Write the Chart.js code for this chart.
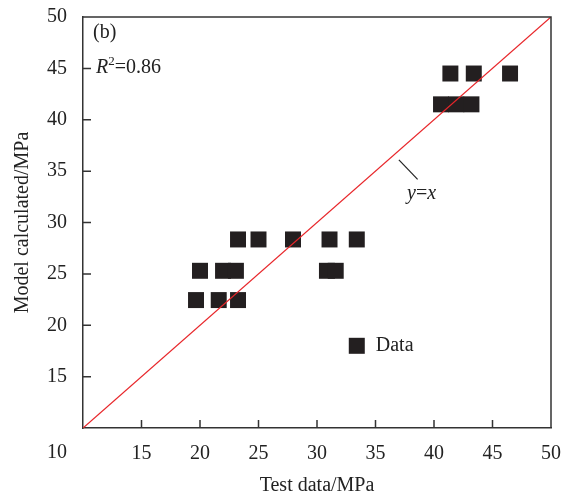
<!DOCTYPE html>
<html>
<head>
<meta charset="utf-8">
<script src="https://cdn.jsdelivr.net/npm/chart.js@4.4.1/dist/chart.umd.min.js"></script>
<style>
  html, body { margin: 0; padding: 0; background: #fff; }
  #wrap { width: 574px; height: 494px; }
</style>
</head>
<body>
<div id="wrap"><canvas id="fitChart"></canvas></div>
<script>
// test data (x) vs model calculated (y), MPa
const testData  = [41.4, 43.4, 46.5, 40.6, 41.9, 43.2, 23.25, 25.0, 27.95, 31.07, 33.4, 20.0, 21.97, 23.07, 30.85, 31.6, 19.66, 21.6, 23.25];
const modelData = [44.5, 44.5, 44.5, 41.5, 41.5, 41.5, 28.35, 28.35, 28.35, 28.35, 28.35, 25.3, 25.3, 25.3, 25.3, 25.3, 22.45, 22.45, 22.45];
const refLine = [10, 50];
const axisTicks = [10, 15, 20, 25, 30, 35, 40, 45, 50];

const serif = '"Liberation Serif", "DejaVu Serif", serif';
const fs = 20;
const axisColor = '#333';

// inward ticks, box frame and the text notes
const decorations = {
    id: 'decorations',
    afterDraw(chart) {
        const { ctx, chartArea: a, scales: { x, y } } = chart;
        ctx.save();
        ctx.strokeStyle = axisColor;
        ctx.lineWidth = 1.5;
        ctx.beginPath();
        ctx.moveTo(a.left, a.top);
        ctx.lineTo(a.right, a.top);
        ctx.lineTo(a.right, a.bottom);
        axisTicks.forEach(v => {
            if (v === 10 || v === 50) return;
            const px = x.getPixelForValue(v);
            ctx.moveTo(px, a.bottom);
            ctx.lineTo(px, a.bottom - 8);
            const py = y.getPixelForValue(v);
            ctx.moveTo(a.left, py);
            ctx.lineTo(a.left + 8, py);
        });
        ctx.stroke();

        ctx.fillStyle = '#222';
        ctx.textBaseline = 'middle';
        ctx.textAlign = 'left';
        // shared origin label
        ctx.font = `${fs}px ${serif}`;
        ctx.fillText('10', 47, 453);

        ctx.fillText('(b)', 93, 33);

        // R²=0.86
        let tx = 96;
        ctx.font = `italic ${fs}px ${serif}`;
        ctx.fillText('R', tx, 68);
        tx += ctx.measureText('R').width;
        ctx.font = `13px ${serif}`;
        ctx.fillText('2', tx, 62);
        tx += ctx.measureText('2').width;
        ctx.font = `${fs}px ${serif}`;
        ctx.fillText('=0.86', tx, 68);

        // y=x note with leader
        ctx.beginPath();
        ctx.lineWidth = 1.2;
        ctx.strokeStyle = '#222';
        ctx.moveTo(x.getPixelForValue(37.0), y.getPixelForValue(36.1));
        ctx.lineTo(x.getPixelForValue(38.6), y.getPixelForValue(34.2));
        ctx.stroke();
        tx = x.getPixelForValue(37.7);
        const ty = y.getPixelForValue(32.8);
        ctx.font = `italic ${fs}px ${serif}`;
        ctx.fillText('y', tx, ty);
        tx += ctx.measureText('y').width;
        ctx.font = `${fs}px ${serif}`;
        ctx.fillText('=', tx, ty);
        tx += ctx.measureText('=').width;
        ctx.font = `italic ${fs}px ${serif}`;
        ctx.fillText('x', tx, ty);

        // legend
        const lx = x.getPixelForValue(33.4);
        const ly = y.getPixelForValue(18.0);
        ctx.fillStyle = '#231f20';
        ctx.fillRect(lx - 8, ly - 8, 16, 16);
        ctx.fillStyle = '#222';
        ctx.font = `${fs}px ${serif}`;
        ctx.fillText('Data', lx + 19, ly);
        ctx.restore();
    }
};

new Chart(document.getElementById('fitChart'), {
    type: 'scatter',
    data: {
        datasets: [
            {
                label: 'y=x',
                type: 'line',
                data: refLine.map(v => ({ x: v, y: v })),
                borderColor: '#e8262a',
                borderWidth: 1.3,
                pointRadius: 0,
                fill: false,
                order: 0
            },
            {
                label: 'Data',
                data: testData.map((v, i) => ({ x: v, y: modelData[i] })),
                pointStyle: 'rect',
                pointRadius: 11.3,
                pointHoverRadius: 11.3,
                backgroundColor: '#231f20',
                borderWidth: 0,
                order: 1
            }
        ]
    },
    options: {
        responsive: true,
        maintainAspectRatio: false,
        animation: false,
        layout: { padding: { left: 0, right: 23, top: 17, bottom: 0 } },
        plugins: {
            legend: { display: false },
            tooltip: { enabled: false }
        },
        scales: {
            x: {
                type: 'linear',
                min: 10,
                max: 50,
                afterFit: s => {
                    s.height = 66;
                    s.paddingLeft = 0;
                    s.paddingRight = 0;
                },
                afterBuildTicks: s => { s.ticks = axisTicks.map(v => ({ value: v })); },
                grid: { display: false, drawTicks: false },
                border: { display: true, color: axisColor, width: 1.5 },
                ticks: {
                    padding: 14,
                    color: '#222',
                    font: { family: serif, size: fs },
                    maxRotation: 0,
                    callback: v => (v === 10 ? '' : v)
                },
                title: {
                    display: true,
                    text: 'Test data/MPa',
                    color: '#222',
                    font: { family: serif, size: fs },
                    padding: { top: 0, bottom: -4 }
                }
            },
            y: {
                type: 'linear',
                min: 10,
                max: 50,
                afterFit: s => {
                    s.width = 83;
                    s.paddingTop = 0;
                    s.paddingBottom = 0;
                },
                afterBuildTicks: s => { s.ticks = axisTicks.map(v => ({ value: v })); },
                grid: { display: false, drawTicks: false },
                border: { display: true, color: axisColor, width: 1.5 },
                ticks: {
                    padding: 16,
                    color: '#222',
                    font: { family: serif, size: fs },
                    callback: v => (v === 10 ? '' : v)
                },
                title: {
                    display: true,
                    text: 'Model calculated/MPa',
                    color: '#222',
                    font: { family: serif, size: fs },
                    padding: { top: 11, bottom: 0 }
                }
            }
        }
    },
    plugins: [decorations]
});
</script>
</body>
</html>
